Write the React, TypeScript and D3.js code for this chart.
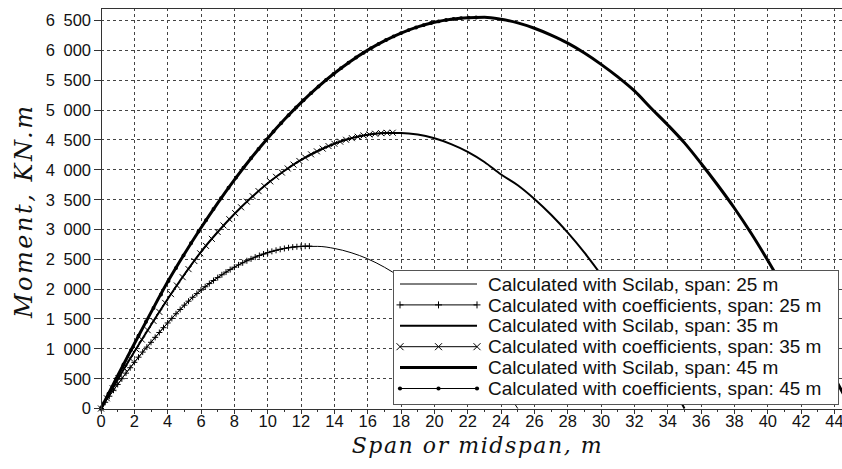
import React from 'react';
import * as d3 from 'd3';

// Bending moment envelopes along the span (kN·m), Scilab solution at 1 m stations
const SCILAB_STEP = 1;
const MOMENT_SCILAB_25 = [0, 403, 773, 1109, 1433, 1731, 1985, 2193, 2367, 2507, 2611, 2681, 2716, 2716, 2681, 2611, 2507, 2367, 2193, 1985, 1741, 1462, 1149, 801, 418, 0];
const MOMENT_SCILAB_35 = [0, 483, 951, 1400, 1834, 2245, 2625, 2957, 3259, 3530, 3772, 3983, 4164, 4314, 4435, 4526, 4586, 4616, 4616, 4590, 4526, 4430, 4300, 4130, 3920, 3740, 3510, 3245, 2945, 2610, 2240, 1850, 1440, 990, 510, 0];
const MOMENT_SCILAB_45 = [0, 548, 1085, 1610, 2122, 2588, 3028, 3442, 3830, 4193, 4529, 4840, 5124, 5383, 5616, 5823, 6004, 6159, 6289, 6392, 6470, 6521, 6548, 6553, 6520, 6460, 6370, 6255, 6120, 5955, 5765, 5555, 5320, 5030, 4750, 4450, 4105, 3740, 3355, 2935, 2480, 2000, 1520, 1030, 520, 0];

// Coefficient method, support to midspan, stations every span/100
const COEF_STEP_25 = 0.25;
const COEF_STEP_35 = 0.35;
const COEF_STEP_45 = 0.45;
const MOMENT_COEF_25 = [0, 104, 206, 306, 403, 499, 593, 683, 773, 860, 945, 1028, 1109, 1192, 1273, 1354, 1433, 1510, 1587, 1659, 1731, 1798, 1863, 1925, 1985, 2040, 2093, 2144, 2193, 2240, 2285, 2327, 2367, 2406, 2441, 2475, 2507, 2536, 2563, 2588, 2611, 2632, 2650, 2667, 2681, 2693, 2703, 2710, 2716, 2719, 2720];
const MOMENT_COEF_35 = [0, 171, 340, 507, 672, 836, 996, 1155, 1312, 1467, 1618, 1769, 1916, 2061, 2200, 2335, 2470, 2600, 2724, 2842, 2957, 3066, 3171, 3273, 3371, 3465, 3556, 3642, 3726, 3805, 3881, 3953, 4021, 4086, 4147, 4204, 4258, 4308, 4354, 4396, 4435, 4470, 4502, 4529, 4553, 4574, 4591, 4603, 4613, 4618, 4620];
const MOMENT_COEF_45 = [0, 248, 494, 738, 978, 1218, 1454, 1684, 1910, 2136, 2355, 2565, 2767, 2964, 3155, 3341, 3522, 3697, 3868, 4033, 4193, 4347, 4497, 4641, 4780, 4913, 5042, 5165, 5283, 5395, 5503, 5605, 5702, 5794, 5880, 5961, 6037, 6108, 6174, 6234, 6289, 6339, 6383, 6422, 6457, 6485, 6509, 6527, 6540, 6548, 6551];

const X_TICKS = [0, 2, 4, 6, 8, 10, 12, 14, 16, 18, 20, 22, 24, 26, 28, 30, 32, 34, 36, 38, 40, 42, 44];
const X_MINOR_TICKS = [1, 3, 5, 7, 9, 11, 13, 15, 17, 19, 21, 23, 25, 27, 29, 31, 33, 35, 37, 39, 41, 43];
const Y_TICKS = [0, 500, 1000, 1500, 2000, 2500, 3000, 3500, 4000, 4500, 5000, 5500, 6000, 6500];

const LEGEND_LABELS = [
  'Calculated with Scilab, span: 25 m',
  'Calculated with coefficients, span: 25 m',
  'Calculated with Scilab, span: 35 m',
  'Calculated with coefficients, span: 35 m',
  'Calculated with Scilab, span: 45 m',
  'Calculated with coefficients, span: 45 m',
];

type Pt = [number, number];
const toPoints = (vals: number[], step: number): Pt[] => vals.map((v, i) => [i * step, v]);

const W = 842;
const H = 469;
const PLOT_LEFT = 101;
const PLOT_TOP = 8;
const PLOT_BOTTOM = 409;

const fmt = d3.formatLocale({ decimal: '.', thousands: ' ', grouping: [3], currency: ['', ''] }).format(',');

type MarkerKind = 'none' | 'plus' | 'cross' | 'dot';

function Marker({ kind, cx, cy, r }: { kind: MarkerKind; cx: number; cy: number; r: number }) {
  if (kind === 'plus') {
    return <path d={`M${cx - r},${cy}H${cx + r}M${cx},${cy - r}V${cy + r}`} stroke="#000" strokeWidth={1} fill="none" />;
  }
  if (kind === 'cross') {
    return <path d={`M${cx - r},${cy - r}L${cx + r},${cy + r}M${cx - r},${cy + r}L${cx + r},${cy - r}`} stroke="#000" strokeWidth={1} fill="none" />;
  }
  if (kind === 'dot') {
    return <circle cx={cx} cy={cy} r={r * 0.7} fill="#000" />;
  }
  return null;
}

export default function App() {
  const x = d3.scaleLinear().domain([0, 44]).range([PLOT_LEFT, 834.5]);
  const y = d3.scaleLinear().domain([0, 6500]).range([408.5, 20.5]);

  const line = d3
    .line<Pt>()
    .x((d) => x(d[0]))
    .y((d) => y(d[1]))
    .curve(d3.curveMonotoneX);

  const series = [
    { pts: toPoints(MOMENT_SCILAB_25, SCILAB_STEP), width: 1, marker: 'none' as MarkerKind },
    { pts: toPoints(MOMENT_COEF_25, COEF_STEP_25), width: 1, marker: 'plus' as MarkerKind },
    { pts: toPoints(MOMENT_SCILAB_35, SCILAB_STEP), width: 2, marker: 'none' as MarkerKind },
    { pts: toPoints(MOMENT_COEF_35, COEF_STEP_35), width: 1, marker: 'cross' as MarkerKind },
    { pts: toPoints(MOMENT_SCILAB_45, SCILAB_STEP), width: 3, marker: 'none' as MarkerKind },
    { pts: toPoints(MOMENT_COEF_45, COEF_STEP_45), width: 1, marker: 'dot' as MarkerKind },
  ];

  const gridColor = '#444';
  const axisColor = '#333';

  const legendX = 393;
  const legendY = 270;
  const legendW = 445;
  const legendH = 134;
  const rowY0 = 284;
  const rowGap = 20.9;

  return (
    <svg
      width={W}
      height={H}
      viewBox={`0 0 ${W} ${H}`}
      style={{ position: 'absolute', left: 0, top: 0, background: '#fff' }}
    >
      <rect x={0} y={0} width={W} height={H} fill="#fff" />

      {/* dashed grid */}
      <g stroke={gridColor} strokeWidth={1} strokeDasharray="3,3" shapeRendering="crispEdges">
        {X_TICKS.filter((t) => t > 0).map((t) => (
          <line key={`gx${t}`} x1={x(t)} x2={x(t)} y1={PLOT_TOP} y2={PLOT_BOTTOM} />
        ))}
        {Y_TICKS.filter((t) => t > 0).map((t) => (
          <line key={`gy${t}`} x1={PLOT_LEFT} x2={W} y1={y(t)} y2={y(t)} />
        ))}
      </g>

      {/* curves */}
      <g>
        {series.map((s, i) => (
          <g key={`s${i}`}>
            <path d={line(s.pts) || ''} fill="none" stroke="#000" strokeWidth={s.width} strokeLinejoin="round" />
            {s.marker !== 'none' &&
              s.pts.map((p, j) => (
                <Marker key={j} kind={s.marker} cx={x(p[0])} cy={y(p[1])} r={s.marker === 'dot' ? 2.8 : 3} />
              ))}
          </g>
        ))}
      </g>

      {/* axes frame */}
      <g stroke={axisColor} strokeWidth={1} shapeRendering="crispEdges">
        <line x1={PLOT_LEFT} x2={PLOT_LEFT} y1={PLOT_TOP} y2={PLOT_BOTTOM} />
        <line x1={PLOT_LEFT} x2={W} y1={PLOT_TOP} y2={PLOT_TOP} />
        <line x1={PLOT_LEFT} x2={W} y1={PLOT_BOTTOM} y2={PLOT_BOTTOM} />
        {Y_TICKS.map((t) => (
          <line key={`ty${t}`} x1={PLOT_LEFT - 7} x2={PLOT_LEFT} y1={y(t)} y2={y(t)} />
        ))}
        {X_TICKS.map((t) => (
          <line key={`tx${t}`} x1={x(t)} x2={x(t)} y1={PLOT_BOTTOM} y2={PLOT_BOTTOM + 5} />
        ))}
        {X_MINOR_TICKS.map((t) => (
          <line key={`tm${t}`} x1={x(t)} x2={x(t)} y1={PLOT_BOTTOM} y2={PLOT_BOTTOM + 3} />
        ))}
      </g>

      {/* tick labels */}
      <g fontFamily="'Liberation Sans', Arial, sans-serif" fontSize={16.5} fill="#111">
        {Y_TICKS.map((t) => (
          <text key={`ly${t}`} x={91} y={y(t)} dy="0.36em" textAnchor="end" style={{ wordSpacing: '4px' }}>
            {fmt(t)}
          </text>
        ))}
        {X_TICKS.map((t) => (
          <text key={`lx${t}`} x={x(t)} y={427} textAnchor="middle">
            {t}
          </text>
        ))}
      </g>

      {/* axis titles */}
      <text
        transform="translate(32,212) rotate(-90)"
        textAnchor="middle"
        fontFamily="'DejaVu Serif', serif"
        fontStyle="italic"
        fontSize={24}
        textLength={212}
        lengthAdjust="spacing"
        fill="#111"
      >
        Moment, KN.m
      </text>
      <text
        x={476.7}
        y={453}
        textAnchor="middle"
        fontFamily="'DejaVu Serif', serif"
        fontStyle="italic"
        fontSize={22}
        textLength={250}
        lengthAdjust="spacing"
        fill="#111"
      >
        Span or midspan, m
      </text>

      {/* legend */}
      <g>
        <rect x={legendX} y={legendY} width={legendW} height={legendH} fill="#fff" stroke="#555" strokeWidth={1} shapeRendering="crispEdges" />
        {LEGEND_LABELS.map((label, i) => {
          const ry = rowY0 + i * rowGap;
          const s = series[i];
          return (
            <g key={`lg${i}`}>
              <line x1={400} x2={477} y1={ry} y2={ry} stroke="#000" strokeWidth={s.width} />
              {s.marker !== 'none' &&
                [400, 438.5, 477].map((mx) => (
                  <Marker key={mx} kind={s.marker} cx={mx} cy={ry} r={s.marker === 'dot' ? 3 : 3.5} />
                ))}
              <text x={488} y={ry} dy="0.35em" fontFamily="'Liberation Sans', Arial, sans-serif" fontSize={19} fill="#111">
                {label}
              </text>
            </g>
          );
        })}
      </g>
    </svg>
  );
}
